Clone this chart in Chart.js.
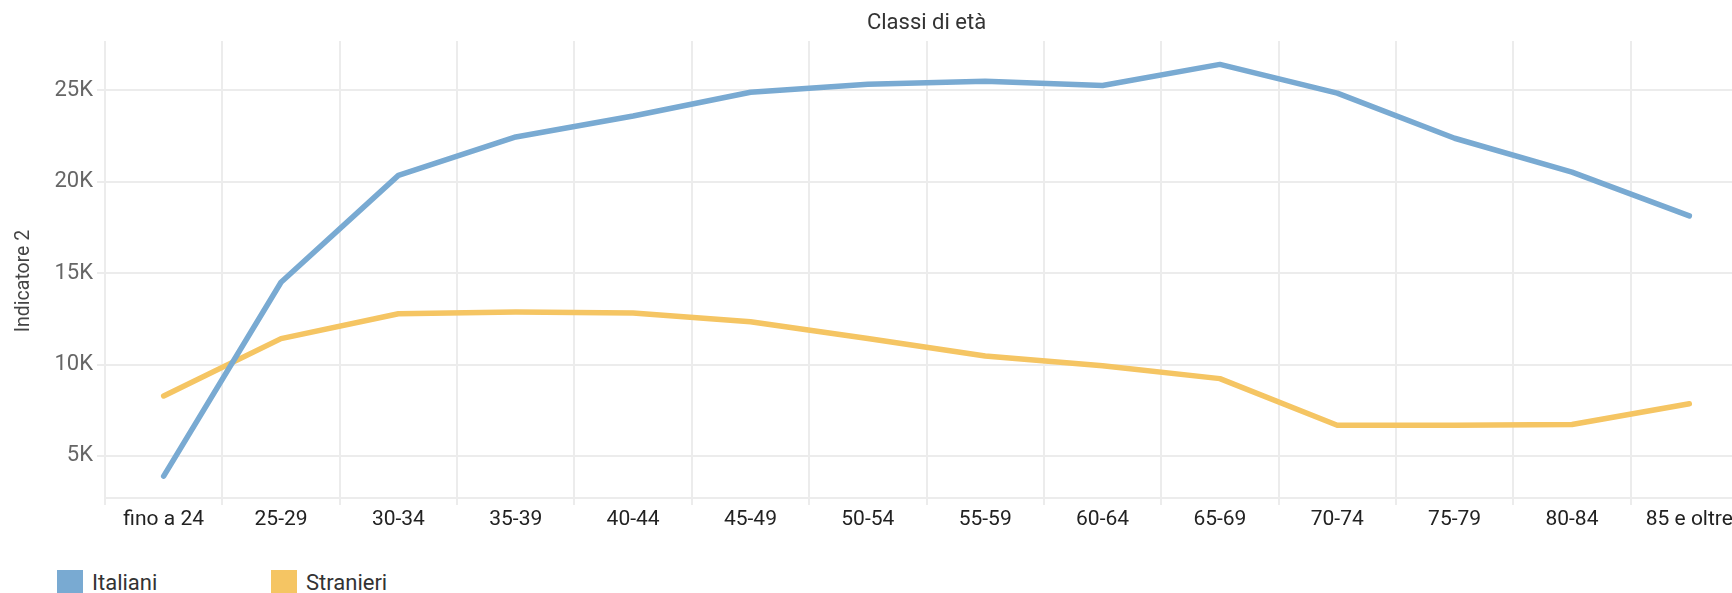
<!DOCTYPE html>
<html>
<head>
<meta charset="utf-8">
<script src="https://cdn.jsdelivr.net/npm/chart.js@4"></script>
<style>
  html, body { margin: 0; padding: 0; background: #fff; overflow: hidden; }
  #wrap { position: relative; width: 1732px; height: 593px; overflow: hidden; }
  canvas { position: absolute; left: 0; top: 0; }
  .legend { position: absolute; top: 570px; font-family: Roboto, sans-serif; font-size: 22px; color: #333; line-height: 26px; white-space: nowrap; }
  .legend span.box { display: inline-block; width: 26px; height: 26px; vertical-align: top; margin-right: 9px; }
</style>
</head>
<body>
<div id="wrap">
  <canvas id="chart" width="1748" height="532"></canvas>
  <div class="legend" style="left:57px"><span class="box" style="background:#79aad2"></span>Italiani</div>
  <div class="legend" style="left:271px"><span class="box" style="background:#f5c563"></span>Stranieri</div>
</div>
<script>
const ageClasses = [
  "fino a 24", "25-29", "30-34", "35-39", "40-44", "45-49", "50-54",
  "55-59", "60-64", "65-69", "70-74", "75-79", "80-84", "85 e oltre",
]

const italiani = [
  3900, 14500, 20350, 22450, 23600, 24900, 25330,
  25500, 25270, 26420, 24850, 22380, 20530, 18130,
]

const stranieri = [
  8280, 11420, 12780, 12870, 12820, 12340, 11430,
  10470, 9930, 9230, 6680, 6680, 6720, 7860,
]

const yTicks = [5000, 10000, 15000, 20000, 25000]

const gridColor = "#ececec"

// y title sits a bit below the plot centre in the original, so it is drawn by hand
const yTitle = {
  id: "yTitle",
  afterDraw(chart) {
    const c = chart.ctx
    c.save()
    c.translate(24, 281)
    c.rotate(-Math.PI / 2)
    c.font = "19.5px Roboto"
    c.fillStyle = "#444"
    c.textAlign = "center"
    c.textBaseline = "middle"
    c.fillText("Indicatore 2", 0, 0)
    c.restore()
  },
}

const ctx = document.getElementById("chart")

new Chart(ctx, {
  type: "line",
  data: {
    labels: ageClasses,
    datasets: [
      {
        label: "Italiani",
        data: italiani,
        borderColor: "#79aad2",
        backgroundColor: "#79aad2",
        borderWidth: 5.5,
        pointRadius: 0,
        borderCapStyle: "round",
        borderJoinStyle: "round",
        tension: 0,
      },
      {
        label: "Stranieri",
        data: stranieri,
        borderColor: "#f5c563",
        backgroundColor: "#f5c563",
        borderWidth: 5.5,
        pointRadius: 0,
        borderCapStyle: "round",
        borderJoinStyle: "round",
        tension: 0,
      },
    ],
  },
  options: {
    responsive: false,
    animation: false,
    layout: { padding: 0 },
    plugins: {
      legend: { display: false },
      tooltip: { enabled: false },
    },
    scales: {
      x: {
        position: "bottom",
        offset: true,
        grid: { offset: true, color: gridColor, tickLength: 7, lineWidth: 2 },
        border: { color: gridColor, width: 2 },
        ticks: {
          color: "#222",
          padding: 2,
          maxRotation: 0,
          autoSkip: false,
          font: { family: "Roboto", size: 21 },
        },
        afterFit: (scale) => { scale.height = 34 },
      },
      x2: {
        position: "top",
        labels: ageClasses,
        type: "category",
        offset: true,
        grid: { display: false, drawTicks: false },
        border: { display: false },
        ticks: { display: false },
        title: {
          display: true,
          text: "Classi di età",
          color: "#333",
          font: { family: "Roboto", size: 22 },
          padding: { top: 10, bottom: 0 },
        },
        afterFit: (scale) => { scale.height = 41 },
      },
      y: {
        min: 2700,
        max: 27700,
        grid: { color: gridColor, tickLength: 8, lineWidth: 2 },
        border: { display: false },
        afterBuildTicks: (scale) => {
          scale.ticks = yTicks.map((v) => ({ value: v }))
        },
        ticks: {
          color: "#666",
          padding: 4,
          font: { family: "Roboto", size: 22 },
          callback: (v) => v / 1000 + "K",
        },
        afterFit: (scale) => { scale.width = 105 },
      },
    },
  },
  plugins: [yTitle],
})
</script>
</body>
</html>
